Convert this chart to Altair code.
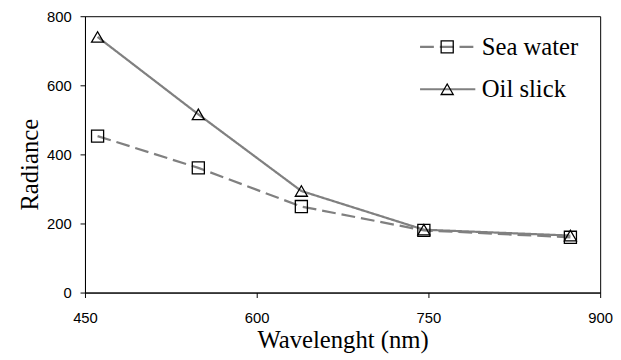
import altair as alt
import pandas as pd

wavelength = [461, 549, 639, 746, 874]
sea_water = [453, 361, 249, 180, 160]
oil_slick = [740, 516, 294, 182, 165]
series_names = ["Sea water", "Oil slick"]
x_ticks = [450, 600, 750, 900]
y_ticks = [0, 200, 400, 600, 800]

rows = []
for i, (name, vals) in enumerate(zip(series_names, [sea_water, oil_slick])):
    for w, v in zip(wavelength, vals):
        rows.append({"Wavelength": w, "Radiance": v, "Series": name,
                     "Marker": name, "Order": i})
df = pd.DataFrame(rows)

x = alt.X(
    "Wavelength:Q",
    scale=alt.Scale(domain=[450, 900], nice=False, zero=False),
    axis=alt.Axis(values=x_ticks, title="Wavelenght (nm)", tickSize=5, labelPadding=13,
                  labelFlush=False, titleY=56, titleBaseline="alphabetic"),
)
y = alt.Y(
    "Radiance:Q",
    scale=alt.Scale(domain=[0, 800], nice=False),
    axis=alt.Axis(values=y_ticks, title="Radiance", tickSize=5, labelPadding=9,
                  labelFlush=False, titleX=-48, titleY=150, titleAngle=270,
                  titleAlign="center", titleBaseline="alphabetic"),
)

lines = alt.Chart(df).mark_line(strokeWidth=2.25).encode(
    x=x,
    y=y,
    color=alt.Color(
        "Series:N",
        scale=alt.Scale(domain=series_names, range=["#808080", "#808080"]),
        legend=alt.Legend(
            title=None, orient="none", legendX=338, legendY=14.5,
            symbolType="stroke", symbolSize=3136, symbolStrokeWidth=2.25,
            clipHeight=33, rowPadding=10, padding=0,
            labelFont="Liberation Serif", labelFontSize=25, labelOffset=5,
            labelColor="black",
        ),
    ),
    strokeDash=alt.StrokeDash(
        "Series:N",
        scale=alt.Scale(domain=series_names, range=[[14, 6], [1, 0]]),
        legend=None,
    ),
)

points = alt.Chart(df).mark_point(filled=False, size=150, strokeWidth=1.3,
                                  color="black", opacity=1).encode(
    x=x,
    y=y,
    shape=alt.Shape(
        "Marker:N",
        sort=alt.EncodingSortField(field="Order", op="min"),
        scale=alt.Scale(range=["square", "triangle-up"]),
        legend=alt.Legend(
            title=None, orient="none", legendX=354.5, legendY=14.5,
            symbolSize=150, symbolStrokeWidth=1.3, symbolStrokeColor="black",
            symbolFillColor="transparent", clipHeight=33, rowPadding=10, padding=0,
            labelFont="Liberation Serif", labelFontSize=25, labelExpr="''",
        ),
    ),
)

chart = alt.layer(lines, points).properties(
    width=522,
    height=280,
    autosize="none",
    padding={"left": 78, "top": 6, "right": 13, "bottom": 66},
).configure_view(
    stroke="black", strokeWidth=1
).configure_axis(
    grid=False,
    domainColor="black",
    tickColor="black",
    labelFont="Liberation Sans",
    labelFontSize=15,
    labelColor="black",
    titleFont="Liberation Serif",
    titleFontSize=25,
    titleFontWeight="normal",
    titleColor="black",
).configure_legend(
    labelFont="Liberation Serif",
    labelFontSize=25,
    labelColor="black",
)

chart.save("out.html", embed_options={"renderer": "svg", "actions": False})
